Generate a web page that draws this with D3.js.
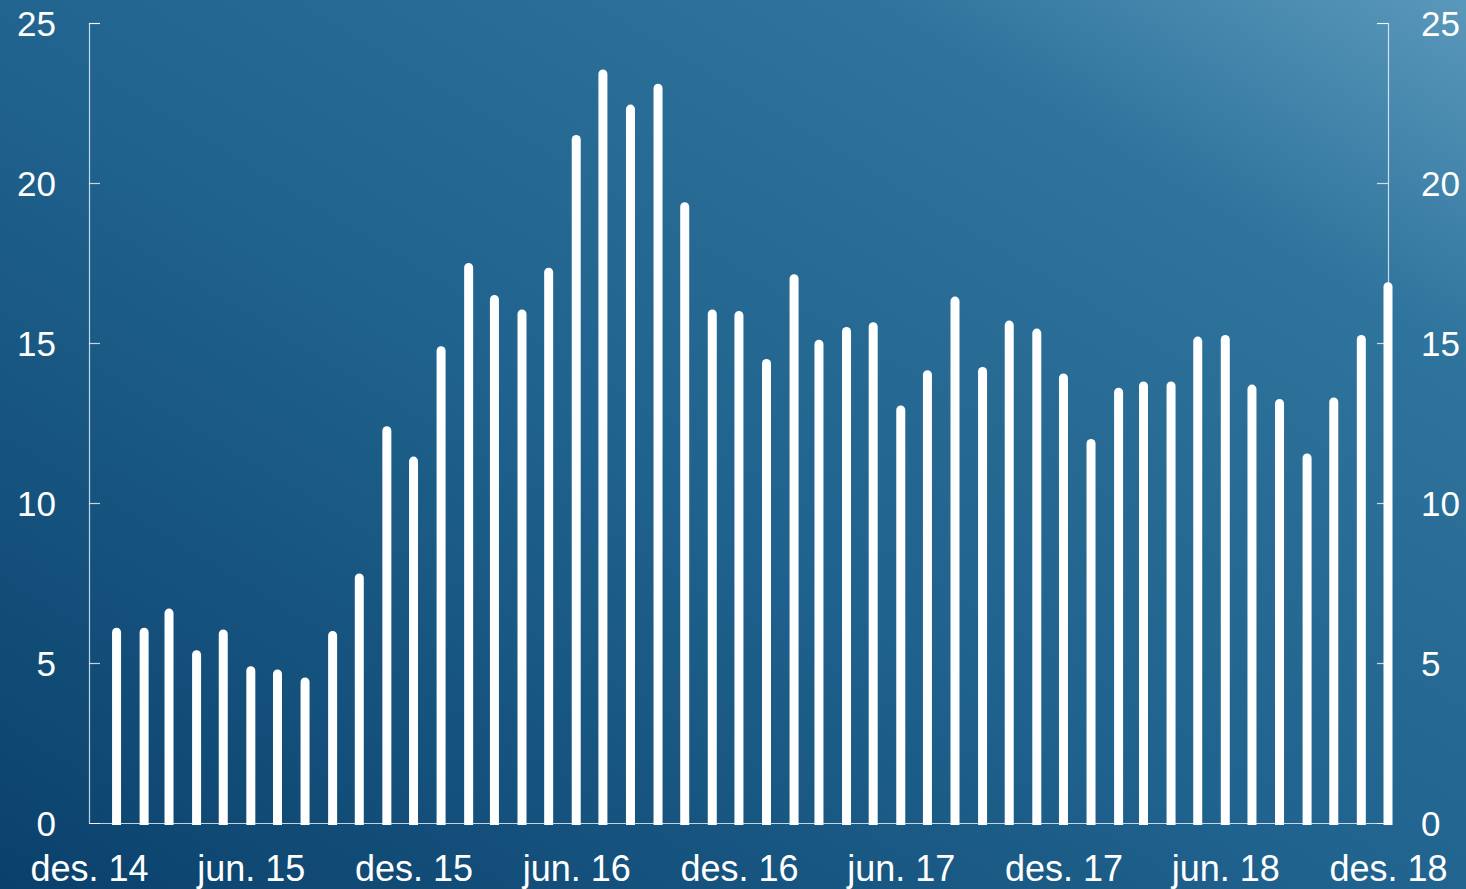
<!DOCTYPE html>
<html>
<head>
<meta charset="utf-8">
<script src="https://cdn.jsdelivr.net/npm/d3@7"></script>
<style>
  html, body { margin: 0; padding: 0; overflow: hidden; }
  svg text { font-family: "Liberation Sans", Arial, sans-serif; fill: #fff; }
</style>
</head>
<body>
<div id="chart"></div>
<script>
// months jan. 15 - des. 18
var months = d3.timeMonths(new Date(2015, 0, 1), new Date(2019, 0, 1))
var values = [
	6.1, 6.1, 6.7, 5.4, 6.05, 4.9, 4.8, 4.55, 6.0, 7.8, 12.4, 11.45,
	14.9, 17.5, 16.5, 16.05, 17.35, 21.5, 23.55, 22.45, 23.1, 19.4, 16.05, 16.0,
	14.5, 17.15, 15.1, 15.5, 15.65, 13.05, 14.15, 16.45, 14.25, 15.7, 15.45, 14.05,
	12.0, 13.6, 13.8, 13.8, 15.2, 15.25, 13.7, 13.25, 11.55, 13.3, 15.25, 16.9
]
var yTicks = [0, 5, 10, 15, 20, 25]
var xTicks = [
	new Date(2014, 11, 1), new Date(2015, 5, 1), new Date(2015, 11, 1),
	new Date(2016, 5, 1), new Date(2016, 11, 1), new Date(2017, 5, 1),
	new Date(2017, 11, 1), new Date(2018, 5, 1), new Date(2018, 11, 1)
]
var monthNames = ["jan.", "feb.", "mar.", "apr.", "mai", "jun.", "jul.", "aug.", "sep.", "okt.", "nov.", "des."]

var width = 1466
var height = 889
var plotLeft = 89, plotRight = 1388, plotTop = 23, plotBottom = 823

var svg = d3.select("#chart").append("svg").attr("width", width).attr("height", height)

var grad = svg.append("defs").append("linearGradient").attr("id", "bg")
	.attr("x1", 0).attr("y1", 1).attr("x2", 1).attr("y2", 0)
grad.append("stop").attr("offset", "0%").attr("stop-color", "#0a416c")
grad.append("stop").attr("offset", "45%").attr("stop-color", "#1f628d")
grad.append("stop").attr("offset", "80%").attr("stop-color", "#2f749d")
grad.append("stop").attr("offset", "100%").attr("stop-color", "#5a98bb")
svg.append("rect").attr("width", width).attr("height", height).attr("fill", "url(#bg)")

var x = d3.scaleTime().domain([new Date(2014, 11, 1), new Date(2018, 11, 1)]).range([plotLeft, plotRight])
var y = d3.scaleLinear().domain([0, 25]).range([plotBottom, plotTop])

var axisColor = "rgba(255,255,255,0.75)"

var leftAxis = svg.append("g").attr("transform", "translate(" + plotLeft + ",0)")
	.call(d3.axisRight(y).tickValues(yTicks).tickSize(11).tickFormat(""))
var rightAxis = svg.append("g").attr("transform", "translate(" + plotRight + ",0)")
	.call(d3.axisLeft(y).tickValues(yTicks).tickSize(11).tickFormat(""))
var bottomAxis = svg.append("g").attr("transform", "translate(0," + plotBottom + ")")
	.call(d3.axisBottom(x).tickValues(xTicks).tickSize(0)
		.tickFormat(function(d) { return monthNames[d.getMonth()] + " " + String(d.getFullYear()).slice(2) }))

;[leftAxis, rightAxis, bottomAxis].forEach(function(g) {
	g.selectAll("path.domain").attr("stroke", axisColor).attr("stroke-width", 1.2)
	g.selectAll(".tick line").attr("stroke", axisColor).attr("stroke-width", 1.2)
})
leftAxis.select(".tick:first-of-type line").remove()
rightAxis.select(".tick:first-of-type line").remove()

bottomAxis.selectAll(".tick text").attr("y", 32).attr("dy", "0.71em")
	.style("font-size", "36px").attr("fill", "#fff")

// bars: thick lines with rounded top
var barW = 9
svg.append("g").selectAll("path").data(values).enter().append("path")
	.attr("d", function(d, i) {
		var cx = x(months[i]), yt = y(d) + barW / 2, yb = plotBottom + 2
		return "M" + (cx - barW / 2) + "," + yb + "L" + (cx - barW / 2) + "," + yt +
			"A" + barW / 2 + "," + barW / 2 + " 0 0 1 " + (cx + barW / 2) + "," + yt +
			"L" + (cx + barW / 2) + "," + yb + "Z"
	})
	.attr("fill", "#fff")

svg.append("g").selectAll("text.yl").data(yTicks).enter().append("text")
	.attr("x", 56).attr("y", function(d) { return y(d) }).attr("dy", "0.36em")
	.attr("text-anchor", "end").style("font-size", "35px").text(function(d) { return d })
svg.append("g").selectAll("text.yr").data(yTicks).enter().append("text")
	.attr("x", 1421).attr("y", function(d) { return y(d) }).attr("dy", "0.36em")
	.attr("text-anchor", "start").style("font-size", "35px").text(function(d) { return d })
</script>
</body>
</html>
